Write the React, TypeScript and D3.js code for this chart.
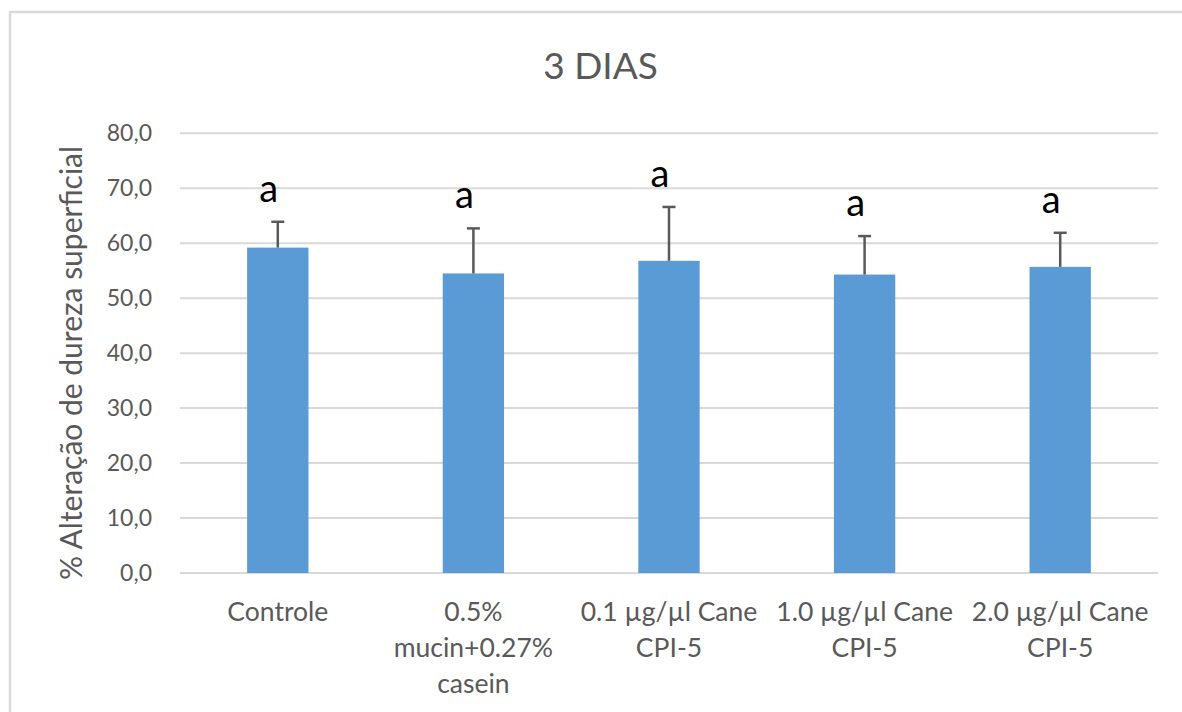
import React from "react";
import * as d3 from "d3";

// Surface hardness change after 3 days, by treatment group
const categories: string[][] = [
  ["Controle"],
  ["0.5%", "mucin+0.27%", "casein"],
  ["0.1 µg/µl Cane", "CPI-5"],
  ["1.0 µg/µl Cane", "CPI-5"],
  ["2.0 µg/µl Cane", "CPI-5"],
];
const means: number[] = [59.2, 54.5, 56.8, 54.3, 55.7];
const errors: number[] = [4.7, 8.2, 9.8, 7.0, 6.2];
const letters: string[] = ["a", "a", "a", "a", "a"];
const yTicks: number[] = [0, 10, 20, 30, 40, 50, 60, 70, 80];

const W = 1182;
const H = 712;
const plot = { left: 180, right: 1158, top: 133.3, bottom: 573 };
const FONT = "Lato, 'Open Sans', sans-serif";
const GREY_TEXT = "#595959";
const GRID = "#d9d9d9";
const BAR = "#5b9bd5";

const ptBR = d3.formatLocale({
  decimal: ",",
  thousands: ".",
  grouping: [3],
  currency: ["R$", ""],
});
const fmt = ptBR.format(".1f");

export default function App() {
  const idx = categories.map((_, i) => String(i));
  const x = d3
    .scaleBand<string>()
    .domain(idx)
    .range([plot.left, plot.right])
    .paddingInner(0.6865)
    .paddingOuter(0.34325);
  const y = d3.scaleLinear().domain([0, 80]).range([plot.bottom, plot.top]);
  const bw = x.bandwidth();

  return (
    <svg
      width={W}
      height={H}
      style={{ position: "absolute", left: 0, top: 0, background: "#fff" }}
    >
      {/* chart frame */}
      <path d={`M10,${H} V12 H${W}`} fill="none" stroke={GRID} strokeWidth={2.5} />

      <text
        x={600.5}
        y={79.3}
        textAnchor="middle"
        fontFamily={FONT}
        fontSize={37}
        fill={GREY_TEXT}
      >
        3 DIAS
      </text>

      {/* gridlines and y tick labels */}
      {yTicks.map((t) => (
        <g key={t}>
          <line
            x1={plot.left}
            x2={plot.right}
            y1={y(t)}
            y2={y(t)}
            stroke={GRID}
            strokeWidth={2}
          />
          <text
            x={152}
            y={y(t)}
            dy="0.35em"
            textAnchor="end"
            fontFamily={FONT}
            fontSize={23}
            fill={GREY_TEXT}
          >
            {fmt(t)}
          </text>
        </g>
      ))}

      <text
        transform={`translate(81.5,363) rotate(-90)`}
        textAnchor="middle"
        fontFamily={FONT}
        fontSize={30}
        fill={GREY_TEXT}
      >
        % Alteração de dureza superficial
      </text>

      {/* bars, error bars and significance letters */}
      {means.map((m, i) => {
        const bx = x(String(i))!;
        const cx = bx + bw / 2;
        const top = y(m + errors[i]);
        return (
          <g key={i}>
            <rect x={bx} y={y(m)} width={bw} height={y(0) - y(m)} fill={BAR} />
            <line x1={cx} x2={cx} y1={y(m)} y2={top} stroke="#595959" strokeWidth={2.5} />
            <line x1={cx - 6.5} x2={cx + 6.5} y1={top} y2={top} stroke="#595959" strokeWidth={2.5} />
            <text
              x={cx - 9}
              y={top - 20}
              textAnchor="middle"
              fontFamily={FONT}
              fontSize={38}
              fill="#000"
            >
              {letters[i]}
            </text>
          </g>
        );
      })}

      {/* category labels */}
      {categories.map((lines, i) => {
        const cx = x(String(i))! + bw / 2;
        return (
          <text
            key={i}
            textAnchor="middle"
            fontFamily={FONT}
            fontSize={26.5}
            fill={GREY_TEXT}
          >
            {lines.map((ln, j) => (
              <tspan key={j} x={cx} y={621 + j * 36}>
                {ln}
              </tspan>
            ))}
          </text>
        );
      })}
    </svg>
  );
}
